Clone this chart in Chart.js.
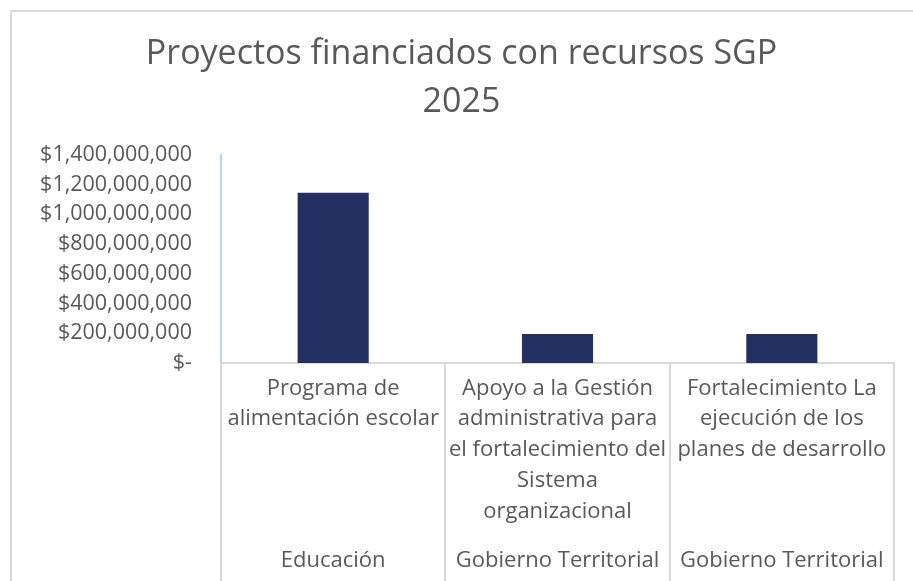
<!DOCTYPE html>
<html>
<head>
<meta charset="utf-8">
<script src="https://cdn.jsdelivr.net/npm/chart.js@4"></script>
<style>
  body { margin: 0; background: #fff; }
  #wrap { position: relative; width: 913px; height: 581px; }
</style>
</head>
<body>
<div id="wrap"><canvas id="canvas" width="913" height="581"></canvas></div>
<script>
// Données du graphique
const proyectos = [
  ['Programa de', 'alimentación escolar'],
  ['Apoyo a la Gestión', 'administrativa para', 'el fortalecimiento del', 'Sistema', 'organizacional'],
  ['Fortalecimiento La', 'ejecución de los', 'planes de desarrollo']
];
const sectores = ['Educación', 'Gobierno Territorial', 'Gobierno Territorial'];
const valores = [1145000000, 195000000, 195000000];
const tituloLineas = ['Proyectos financiados con recursos SGP', '2025'];

const gris = '#595959';
const fuente = '"Open Sans", Lato, sans-serif';

// Cadre extérieur + séparateurs des catégories sous l'axe
const bordes = {
  id: 'bordes',
  afterLayout(chart) {
    // centrer le titre sur tout le cadre
    const t = chart.titleBlock;
    t.left = 10;
    t.right = chart.width;
    t.width = t.right - t.left;
  },
  afterDraw(chart) {
    const ctx = chart.ctx;
    const x = chart.scales.x;
    const area = chart.chartArea;
    ctx.save();
    ctx.strokeStyle = '#d9d9d9';
    ctx.lineWidth = 2;
    ctx.beginPath();
    ctx.moveTo(11, chart.height);
    ctx.lineTo(11, 11);
    ctx.lineTo(chart.width, 11);
    ctx.stroke();
    const n = x.ticks.length;
    const paso = (area.right - area.left) / n;
    ctx.beginPath();
    for (let i = 0; i <= n; i++) {
      const px = Math.round(x.getPixelForTick(0) - paso / 2 + i * paso);
      ctx.moveTo(px, area.bottom);
      ctx.lineTo(px, chart.height);
    }
    ctx.stroke();
    ctx.restore();
  }
};

new Chart(document.getElementById('canvas'), {
  type: 'bar',
  data: {
    labels: proyectos,
    datasets: [{
      data: valores,
      backgroundColor: '#243062',
      barPercentage: 0.317,
      categoryPercentage: 1
    }]
  },
  options: {
    responsive: false,
    animation: false,
    layout: { padding: { left: 0, right: 19, top: 0, bottom: 0 } },
    plugins: {
      legend: { display: false },
      tooltip: { enabled: false },
      title: {
        display: true,
        text: tituloLineas,
        color: gris,
        font: { family: fuente, size: 34, weight: 'normal', lineHeight: 1.41 },
        padding: { top: 30, bottom: 29 }
      }
    },
    scales: {
      y: {
        min: 0,
        max: 1400000000,
        ticks: {
          stepSize: 200000000,
          color: gris,
          padding: 21,
          font: { family: fuente, size: 21.5 },
          callback: v => v === 0 ? '$-' : '$' + v.toLocaleString('en-US')
        },
        grid: { display: false },
        border: { color: '#a9dbf2', width: 2 },
        afterFit: s => { s.width = 221; }
      },
      x: {
        weight: 0,
        offset: true,
        ticks: {
          color: gris,
          padding: 2,
          maxRotation: 0,
          autoSkip: false,
          font: { family: fuente, size: 22, lineHeight: 1.4 }
        },
        grid: { display: false },
        border: { color: '#d9d9d9', width: 2 },
        afterFit: s => { s.height = 172; }
      },
      x2: {
        type: 'category',
        position: 'bottom',
        weight: 1,
        offset: true,
        labels: sectores,
        ticks: {
          color: gris,
          padding: 2,
          maxRotation: 0,
          autoSkip: false,
          font: { family: fuente, size: 22, lineHeight: 1.4 }
        },
        grid: { display: false },
        border: { display: false },
        afterFit: s => { s.height = 46; }
      }
    }
  },
  plugins: [bordes]
});
</script>
</body>
</html>
